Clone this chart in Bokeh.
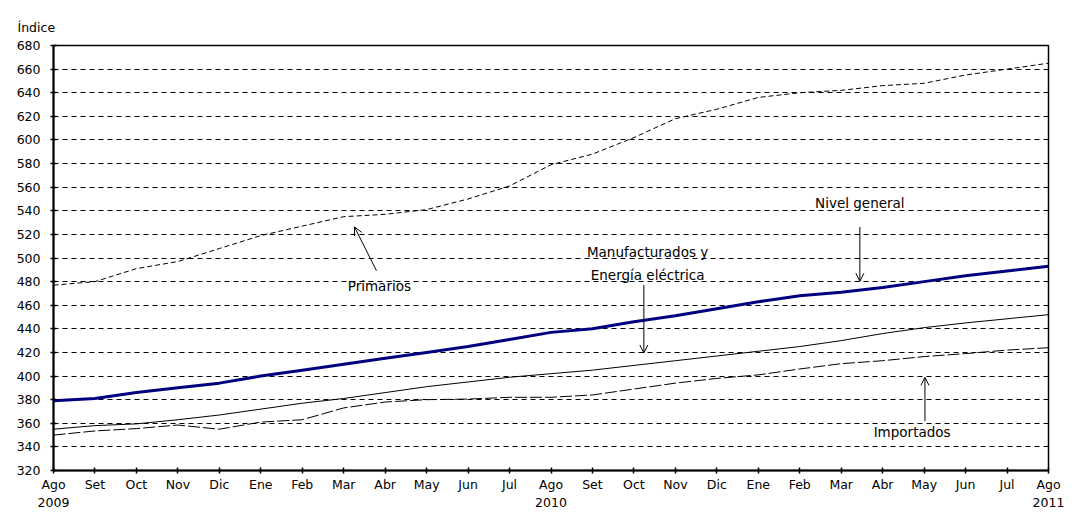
from bokeh.plotting import figure
from bokeh.models import FixedTicker, Label, Arrow, OpenHead, Range1d
from bokeh.embed import file_html
from bokeh.resources import INLINE

months = ["Ago\n2009", "Set", "Oct", "Nov", "Dic", "Ene", "Feb", "Mar", "Abr", "May", "Jun", "Jul",
          "Ago\n2010", "Set", "Oct", "Nov", "Dic", "Ene", "Feb", "Mar", "Abr", "May", "Jun", "Jul",
          "Ago\n2011"]
x = list(range(len(months)))

nivel_general = [379, 381, 386, 390, 394, 400, 405, 410, 415, 420, 425, 431,
                 437, 440, 446, 451, 457, 463, 468, 471, 475, 480, 485, 489, 493]
primarios = [477, 480, 491, 497, 508, 519, 527, 535, 537, 541, 550, 561,
             579, 588, 602, 618, 626, 636, 640, 642, 646, 648, 655, 660, 665]
manufacturados = [355, 358, 359.5, 363, 367, 372, 377, 381, 386, 391, 395, 399,
                  402, 405, 409, 413, 417, 421, 425, 430, 436, 441, 445, 448.5, 452]
importados = [350, 353.5, 355.5, 358.5, 355, 361, 363, 373, 378, 380, 380.5, 382,
              382, 384, 389, 394, 398, 401, 406, 410.5, 413, 416.5, 419, 422, 424]

y_ticks = list(range(320, 681, 20))
FONT = "DejaVu Sans"
TICK_SIZE = "12.5px"
ANN_SIZE = "13.5px"

p = figure(width=1064, height=512, output_backend="svg", toolbar_location=None,
           x_range=Range1d(0, 24), y_range=Range1d(320, 680),
           min_border_left=53, min_border_right=16, min_border_top=45, min_border_bottom=36)

p.title.text = "Índice"
p.title.align = "left"
p.title.offset = -36
p.title.standoff = 22
p.title.text_font = FONT
p.title.text_font_size = TICK_SIZE
p.title.text_font_style = "normal"
p.title.text_color = "black"

p.outline_line_color = "black"
p.outline_line_width = 1.5
p.xgrid.grid_line_color = None
p.ygrid.grid_line_color = "black"
p.ygrid.grid_line_dash = "5 4"
p.ygrid.grid_line_width = 1

for ax in (p.xaxis[0], p.yaxis[0]):
    ax.axis_line_width = 2
    ax.axis_line_color = "black"
    ax.major_tick_in = 3
    ax.major_tick_out = 3
    ax.major_tick_line_width = 1.5
    ax.minor_tick_line_color = None
    ax.major_label_text_font = FONT
    ax.major_label_text_font_size = TICK_SIZE
    ax.major_label_text_color = "black"

p.xaxis.ticker = FixedTicker(ticks=x)
p.xaxis.major_label_overrides = {i: m for i, m in enumerate(months)}
p.xaxis.major_label_standoff = 3
p.yaxis.ticker = FixedTicker(ticks=y_ticks)
p.yaxis.major_label_standoff = 10

p.line(x, primarios, line_color="black", line_width=1, line_dash="5 3")
p.line(x, importados, line_color="black", line_width=1, line_dash="12 3")
p.line(x, manufacturados, line_color="black", line_width=1)
p.line(x, nivel_general, line_color="#000080", line_width=3)

def txt(xv, yv, s):
    p.add_layout(Label(x=xv, y=yv, text=s, text_font=FONT, text_font_size=ANN_SIZE,
                       text_align="center", text_baseline="middle", text_color="black"))

def arrow(x0, y0, x1, y1):
    p.add_layout(Arrow(end=OpenHead(size=8, line_width=1, line_color="black"),
                       x_start=x0, y_start=y0, x_end=x1, y_end=y1,
                       line_color="black", line_width=1))

txt(7.86, 476.2, "Primarios")
arrow(7.79, 489.3, 7.26, 526.3)

txt(14.33, 505.0, "Manufacturados y")
txt(14.33, 485.2, "Energía eléctrica")
arrow(14.24, 477.0, 14.24, 419.5)

txt(19.45, 546.9, "Nivel general")
arrow(19.45, 526.3, 19.45, 480.3)

txt(20.71, 352.9, "Importados")
arrow(21.02, 361.9, 21.02, 398.9)

open("out.html", "w").write(file_html(p, INLINE))
